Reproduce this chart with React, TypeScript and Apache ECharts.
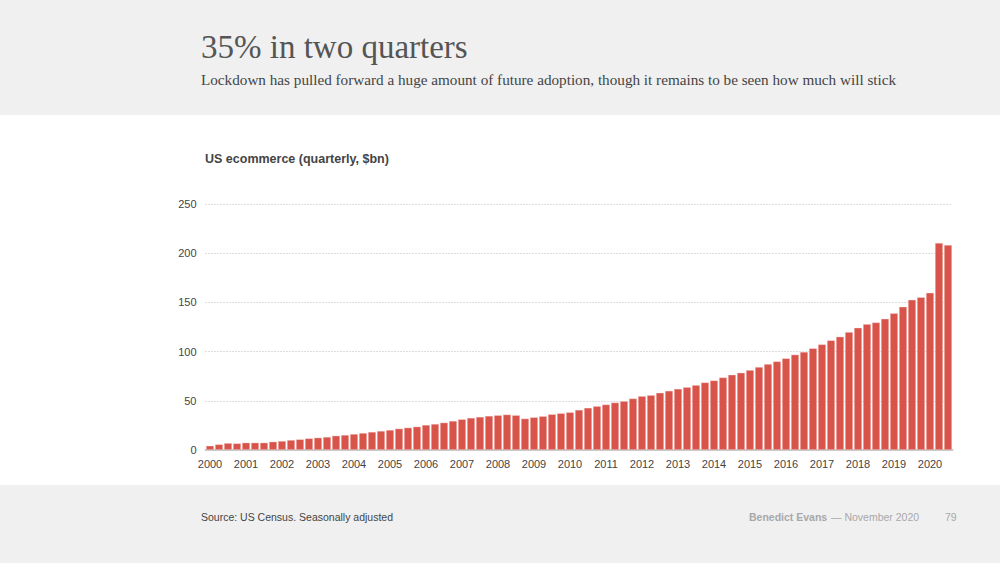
import React, { useEffect, useRef } from "react";
import * as echarts from "echarts";

const years = Array.from({ length: 21 }, (_, i) => String(2000 + i));
const quarters = ["Q1", "Q2", "Q3", "Q4"];
const categories: string[] = [];
years.forEach((y) => quarters.forEach((q) => categories.push(`${y} ${q}`)));
categories.splice(83);

const ecommerce = [
  4.4, 5.8, 7.1, 6.8, 7.5, 7.5, 7.5, 8.5, 9.2, 10.2, 10.9, 11.9, 12.6, 13.3, 14.6, 15.3,
  16.3, 17.3, 18.4, 19.4, 20.4, 21.8, 22.8, 23.8, 25.5, 26.5, 27.9, 29.6, 31.3, 32.7, 33.7, 34.7,
  35.4, 36.1, 35.4, 32.0, 33.3, 34.4, 36.4, 37.4, 38.4, 40.8, 42.9, 44.6, 46.3, 48.3, 49.7, 52.4,
  54.8, 55.8, 58.2, 60.2, 62.2, 63.9, 66.0, 68.7, 70.7, 73.8, 76.5, 78.6, 81.3, 84.4, 87.4, 90.1,
  93.2, 97.0, 99.7, 103.4, 107.4, 111.5, 115.2, 119.9, 124.3, 128.0, 129.7, 133.4, 138.9, 145.6, 152.7, 155.4,
  159.8, 210.5, 208.4,
];

const yTicks = [0, 50, 100, 150, 200, 250];

const title = "35% in two quarters";
const subtitle =
  "Lockdown has pulled forward a huge amount of future adoption, though it remains to be seen how much will stick";
const chartTitle = "US ecommerce (quarterly, $bn)";
const source = "Source: US Census. Seasonally adjusted";
const author = "Benedict Evans";
const dateText = "— November 2020";
const pageNo = "79";

export default function App() {
  const ref = useRef<HTMLDivElement>(null);
  useEffect(() => {
    if (!ref.current) return;
    const chart = echarts.init(ref.current, null, { renderer: "svg" });
    const sans = "'Liberation Sans', Arial, sans-serif";
    const serif = "'Liberation Serif', 'Times New Roman', serif";
    chart.setOption({
      animation: false,
      backgroundColor: "#ffffff",
      graphic: [
        { type: "rect", z: -10, shape: { x: 0, y: 0, width: 1000, height: 115 }, style: { fill: "#f0f0f0" } },
        { type: "rect", z: -10, shape: { x: 0, y: 485, width: 1000, height: 78 }, style: { fill: "#f0f0f0" } },
        { type: "text", left: 201, top: 30, style: { text: title, font: `33px ${serif}`, fill: "#555555" } },
        { type: "text", left: 201, top: 72, style: { text: subtitle, font: `15.2px ${serif}`, fill: "#444444" } },
        { type: "text", left: 205, top: 152, style: { text: chartTitle, font: `bold 12.5px ${sans}`, fill: "#444444" } },
        { type: "text", left: 201, top: 511, style: { text: source, font: `10.5px ${sans}`, fill: "#444444" } },
        { type: "text", left: 749, top: 511, style: { text: author, font: `bold 10.5px ${sans}`, fill: "#a8a8a8" } },
        { type: "text", left: 831, top: 511, style: { text: dateText, font: `10.5px ${sans}`, fill: "#a8a8a8" } },
        { type: "text", left: 945, top: 511, style: { text: pageNo, font: `10.5px ${sans}`, fill: "#a8a8a8" } },
      ],
      grid: { left: 205.5, right: 47.5, top: 204, bottom: 113, containLabel: false },
      xAxis: {
        type: "category",
        data: categories,
        boundaryGap: true,
        axisLine: { show: true, lineStyle: { color: "#c8c8c8", width: 2 } },
        axisTick: { show: false },
        axisLabel: {
          interval: 3,
          formatter: (v: string) => v.split(" ")[0],
          fontFamily: sans,
          fontSize: 11,
          color: "#444444",
          margin: 8,
        },
      },
      yAxis: {
        type: "value",
        min: yTicks[0],
        max: yTicks[yTicks.length - 1],
        interval: 50,
        axisLine: { show: false },
        axisTick: { show: false },
        axisLabel: { fontFamily: sans, fontSize: 11, color: "#444444", margin: 9 },
        splitLine: { show: true, lineStyle: { color: "#bdbdbd", type: [1, 2], width: 1 } },
      },
      series: [
        {
          type: "bar",
          data: ecommerce,
          barCategoryGap: "10%",
          itemStyle: { color: "#d8534a", borderColor: "rgba(255,235,235,0.6)", borderWidth: 0.6 },
        },
      ],
    });
    return () => chart.dispose();
  }, []);
  return (
    <div
      ref={ref}
      style={{ position: "fixed", left: 0, top: 0, width: 1000, height: 563 }}
    />
  );
}
